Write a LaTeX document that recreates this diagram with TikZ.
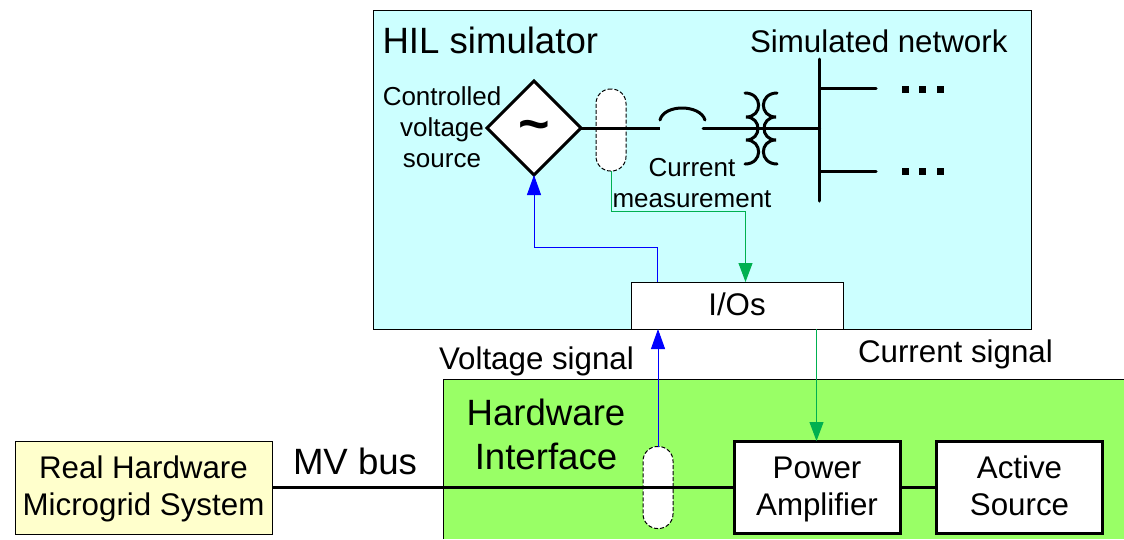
\documentclass[tikz,border=0pt]{standalone}
\usepackage{fontspec}
\setmainfont{Liberation Sans}
\usetikzlibrary{arrows.meta,shapes.geometric}
\definecolor{hilbg}{HTML}{CCFFFF}
\definecolor{hwbg}{HTML}{99FF66}
\definecolor{rtbg}{HTML}{FFFFCC}
\definecolor{sigblue}{HTML}{0000FF}
\definecolor{siggreen}{HTML}{00B050}
\newcommand{\twolines}[2]{\rule{0pt}{27pt}#1\\#2\rule[-8pt]{0pt}{8pt}}
\tikzset{
  x=1pt,y=-1pt,
  every node/.style={inner sep=0pt,outer sep=0pt},
  big/.style={font=\fontsize{36.6}{44}\selectfont,align=center},
  mid/.style={font=\fontsize{31.3}{37}\selectfont,align=center},
  small/.style={font=\fontsize{26}{31}\selectfont,align=center},
  thinbox/.style={draw=black,line width=1pt},
  heavybox/.style={draw=black,line width=3pt,fill=white,minimum width=166pt,minimum height=92pt,mid},
  oval/.style={draw=black,dash pattern=on 4pt off 2pt,line width=1pt,fill=white,rounded corners=14.5pt,minimum width=30pt,minimum height=82pt},
  wire/.style={draw=black,line width=3pt},
  blueline/.style={draw=sigblue,line width=1pt,-{Triangle[length=20pt,width=14pt]}},
  greenline/.style={draw=siggreen,line width=1pt,-{Triangle[length=19pt,width=14pt]}},
  dot/.style={fill=black,minimum width=7pt,minimum height=7pt}
}
\begin{document}
\begin{tikzpicture}
\useasboundingbox (0,0) rectangle (1124,539);
% backgrounds
\node[thinbox,fill=hilbg,anchor=north west,minimum width=658pt,minimum height=319pt] (hil) at (373,10) {};
\fill[hwbg] (443,379) rectangle (1124,539);
\draw[line width=1pt] (443,539) -- (443,379) -- (1124,379);
% boxes
\node[thinbox,fill=rtbg,anchor=north west,minimum width=257pt,minimum height=93pt,mid] (real) at (15,441) {\twolines{Real Hardware}{Microgrid System}};
\node[thinbox,fill=white,anchor=north west,minimum width=212pt,minimum height=47pt] (io) at (631,282) {};
\node[heavybox] (amp) at (817,487) {\twolines{Power}{Amplifier}};
\node[heavybox] (act) at (1019.5,487) {\twolines{Active}{Source}};
\node[oval] (ovala) at (611,130) {};
\node[oval] (ovalb) at (658,487.5) {};
\node[diamond,draw=black,line width=3pt,fill=white,minimum width=94pt,minimum height=94pt,aspect=1] (src) at (534,128) {};
\node[font=\fontsize{54}{54}\selectfont\bfseries] (tilde) at (534.5,131) {\char"007E};
% power wires
\draw[wire] (real.east |- amp.west) -- (amp.west);
\draw[wire] (amp.east) -- (act.west);
\coordinate (bustop) at (819.5,59);
\coordinate (busbot) at (819.5,201);
\coordinate (brkl) at (660,128);
\coordinate (brkr) at (703,128);
\coordinate (busmid) at (819.5,128);
\draw[wire] (src.east) -- (brkl);
\draw[wire,line cap=round] (brkr) -- (busmid);
\draw[wire,line cap=round] (bustop) -- (busbot);
\draw[wire,line cap=round] (660,120) .. controls (664,104) and (700,104) .. (705,120);
\draw[wire,line cap=round] (819.5,88) -- (876,88);
\draw[wire,line cap=round] (819.5,171) -- (876,171);
% transformer coils
\draw[wire,line cap=round] (745,93) .. controls (763,93) and (763,117) .. (746,117)
  .. controls (762,117) and (762,140) .. (746,140)
  .. controls (763,140) and (763,164) .. (745,164);
\draw[wire,line cap=round] (777,93) .. controls (759,93) and (759,117) .. (776,117)
  .. controls (760,117) and (760,140) .. (776,140)
  .. controls (759,140) and (759,164) .. (777,164);
% dots
\node[dot] (d1) at (905.5,89) {};
\node[dot] (d2) at (922.5,89) {};
\node[dot] (d3) at (940.5,89) {};
\node[dot] (d4) at (905.5,171) {};
\node[dot] (d5) at (922.5,171) {};
\node[dot] (d6) at (940.5,171) {};
% signals
\coordinate (gin) at (745.5,211.5);
\coordinate (bout) at (657.5,247.5);
\draw[greenline] (ovala.south) |- (gin) -- (gin |- io.north);
\draw[blueline] (bout |- io.north) -- (bout) -| (src.south);
\draw[blueline] (ovalb.north) -- (ovalb.north |- io.south);
\coordinate (gdown) at (816.5,329);
\draw[greenline] (gdown) -- (gdown |- amp.north);
% texts
\node[mid] (iot) at (737,304) {I/Os};
\node[big,anchor=base west] (t1) at (382.5,53) {HIL simulator};
\node[mid,anchor=base west] (t2) at (750,52) {Simulated network};
\node[small,anchor=base] (t3) at (442,105) {Controlled};
\node[small,anchor=base] (t4) at (442,136) {voltage};
\node[small,anchor=base] (t5) at (442,167) {source};
\node[small,anchor=base] (t6) at (692,176) {Current};
\node[small,anchor=base] (t7) at (692,207) {measurement};
\node[mid,anchor=base west] (t8) at (439,369) {Voltage signal};
\node[mid,anchor=base west] (t9) at (858,362) {Current signal};
\node[big,anchor=base west] (t10) at (293,474) {MV bus};
\node[big,anchor=base] (t11) at (546,425) {Hardware};
\node[big,anchor=base] (t12) at (546,469) {Interface};
\end{tikzpicture}
\end{document}
